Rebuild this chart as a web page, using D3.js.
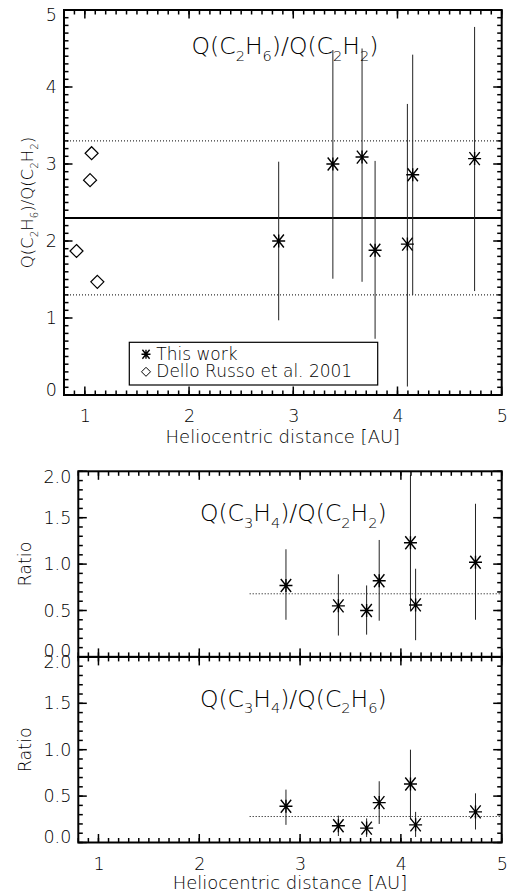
<!DOCTYPE html>
<html>
<head>
<meta charset="utf-8">
<script src="https://cdn.jsdelivr.net/npm/d3@7"></script>
<style>
  body { margin: 0; background: #fff; }
  svg { display: block; }
  text { font-family: "DejaVu Sans", sans-serif; font-weight: 200; fill: #000; }
</style>
</head>
<body>
<div id="chart"></div>
<script>
// ---------------- Data ----------------
// Heliocentric distances of this work's observations [AU]
var distances = [2.86, 3.38, 3.66, 3.785, 4.095, 4.146, 4.74];

// Q(C2H6)/Q(C2H2)
var c2h6c2h2 = [2.00, 3.00, 3.09, 1.88, 1.96, 2.86, 3.07];
var c2h6c2h2Lo = [0.97, 1.51, 1.47, 0.73, 0.11, 1.30, 1.35];
var c2h6c2h2Hi = [3.03, 4.48, 4.50, 3.04, 3.78, 4.42, 4.78];

// Dello Russo et al. 2001
var drDistances = [0.92, 1.05, 1.065, 1.12];
var drRatios = [1.87, 2.79, 3.14, 1.47];

// mean and spread lines of the top panel
var topMean = 2.3;
var topSpread = [3.3, 1.3];

// Q(C3H4)/Q(C2H2)
var c3h4c2h2 = [0.77, 0.55, 0.50, 0.82, 1.23, 0.56, 1.02];
var c3h4c2h2Lo = [0.40, 0.23, 0.24, 0.39, 0.50, 0.18, 0.40];
var c3h4c2h2Hi = [1.16, 0.89, 0.77, 1.26, 1.96, 0.95, 1.65];
var c3h4c2h2Mean = 0.68;

// Q(C3H4)/Q(C2H6)
var c3h4c2h6 = [0.39, 0.18, 0.155, 0.43, 0.63, 0.19, 0.33];
var c3h4c2h6Lo = [0.19, 0.07, 0.06, 0.20, 0.25, 0.06, 0.14];
var c3h4c2h6Hi = [0.57, 0.29, 0.26, 0.66, 1.00, 0.33, 0.53];
var c3h4c2h6Mean = 0.28;
var meanStart = 2.5;

var xTicks = [1, 2, 3, 4, 5];
var topYTicks = [0, 1, 2, 3, 4, 5];
var ratioTicks = [0, 0.5, 1.0, 1.5, 2.0];

// ---------------- SVG ----------------
var svgWidth = 507;
var svgHeight = 893;

var svg = d3.select("#chart").append("svg")
            .attr("width", svgWidth)
            .attr("height", svgHeight);

// minor tick values every 0.1
function minorValues(lo, hi) {
  var out = [];
  for (var i = Math.round(lo * 10); i <= Math.round(hi * 10); i++) out.push(i / 10);
  return out;
}

// tick labels (no tick lines)
function drawLabels(g, x, y, yMajor, opts) {
  var h = y.range()[0];
  if (opts.xLabels) {
    var xa = g.append("g").attr("transform", "translate(0," + h + ")")
              .call(d3.axisBottom(x).tickValues(xTicks).tickSize(0).tickPadding(15).tickFormat(d3.format("d")));
    xa.select(".domain").remove();
    xa.selectAll("text").attr("font-size", 17.5).attr("font-family", null);
  }
  var ya = g.append("g")
            .call(d3.axisLeft(y).tickValues(yMajor).tickSize(0).tickPadding(opts.yPad).tickFormat(opts.yFormat));
  ya.select(".domain").remove();
  var lo = d3.min(yMajor), hi = d3.max(yMajor);
  ya.selectAll("text").attr("font-size", 17.5).attr("font-family", null)
    .attr("dy", d => d === lo ? "0.0em" : d === hi ? "0.62em" : "0.32em");
}

// IDL-like frame with inward major and minor ticks as small filled rects, drawn last
function drawFrame(g, x, y, yMajor) {
  var w = x.range()[1], h = y.range()[0];
  var t = 1.5;
  var f = g.append("g").attr("class", "frame");
  function xt(vals, len) {
    f.selectAll(null).data(vals).enter().append("rect")
     .attr("x", d => x(d) - t / 2).attr("y", h - len).attr("width", t).attr("height", len).attr("fill", "#000");
    f.selectAll(null).data(vals).enter().append("rect")
     .attr("x", d => x(d) - t / 2).attr("y", 0).attr("width", t).attr("height", len).attr("fill", "#000");
  }
  function yt(vals, len) {
    f.selectAll(null).data(vals).enter().append("rect")
     .attr("y", d => y(d) - t / 2).attr("x", 0).attr("height", t).attr("width", len).attr("fill", "#000");
    f.selectAll(null).data(vals).enter().append("rect")
     .attr("y", d => y(d) - t / 2).attr("x", w - len).attr("height", t).attr("width", len).attr("fill", "#000");
  }
  xt(minorValues(x.domain()[0], x.domain()[1]), 4.5);
  yt(minorValues(y.domain()[0], y.domain()[1]), 4.5);
  xt(xTicks, 8.5);
  yt(yMajor, 8.5);
  f.append("rect").attr("width", w).attr("height", h)
   .attr("fill", "none").attr("stroke", "#000").attr("stroke-width", 2);
}

function asterisk(sel, s) {
  var p = "M" + (-s) + ",0H" + s +
          "M0," + (-s) + "V" + s +
          "M" + (-s * 0.8) + "," + (-s) + "L" + (s * 0.8) + "," + s +
          "M" + (-s * 0.8) + "," + s + "L" + (s * 0.8) + "," + (-s);
  sel.append("path").attr("d", p).attr("stroke", "#000").attr("stroke-width", 1.4).attr("fill", "none");
}

function errorPoints(g, x, y, vals, lo, hi) {
  g.selectAll(null).data(vals).enter().append("line")
   .attr("x1", (d, i) => x(distances[i])).attr("x2", (d, i) => x(distances[i]))
   .attr("y1", (d, i) => y(lo[i])).attr("y2", (d, i) => y(hi[i]))
   .attr("stroke", "#222").attr("stroke-width", 1);
  g.selectAll(null).data(vals).enter().append("g")
   .attr("transform", (d, i) => "translate(" + x(distances[i]) + "," + y(d) + ")")
   .each(function() { asterisk(d3.select(this), 6.5); });
}

// subscripted formula label, "Q(C_2H_6)" -> tspans
function formula(sel, str, size) {
  var prevSub = false;
  str.split(/(_\d)/).forEach(function(s) {
    if (!s) return;
    var sub = s.charAt(0) === "_";
    sel.append("tspan")
       .attr("font-size", sub ? size * 0.62 : size)
       .attr("dy", sub ? size * 0.28 : (prevSub ? -size * 0.28 : 0))
       .text(sub ? s.slice(1) : s);
    prevSub = sub;
  });
}

// ---------------- Top panel ----------------
var topBox = { left: 64, top: 10, width: 437.7, height: 385 };
var xTop = d3.scaleLinear().domain([0.8, 5]).range([0, topBox.width]);
var yTop = d3.scaleLinear().domain([0, 5]).range([topBox.height, 0]);
var gTop = svg.append("g").attr("transform", "translate(" + topBox.left + "," + topBox.top + ")");

gTop.append("line").attr("x1", 0).attr("x2", topBox.width)
    .attr("y1", yTop(topMean)).attr("y2", yTop(topMean))
    .attr("stroke", "#000").attr("stroke-width", 2);
topSpread.forEach(function(v) {
  gTop.append("line").attr("x1", 0).attr("x2", topBox.width)
      .attr("y1", yTop(v)).attr("y2", yTop(v))
      .attr("stroke", "#000").attr("stroke-width", 1).attr("stroke-dasharray", "1,2");
});

errorPoints(gTop, xTop, yTop, c2h6c2h2, c2h6c2h2Lo, c2h6c2h2Hi);

gTop.selectAll(null).data(drRatios).enter().append("path")
    .attr("d", "M0,-6.5L6.5,0L0,6.5L-6.5,0Z")
    .attr("transform", (d, i) => "translate(" + xTop(drDistances[i]) + "," + yTop(d) + ")")
    .attr("fill", "none").attr("stroke", "#000").attr("stroke-width", 1.2);

drawLabels(gTop, xTop, yTop, topYTicks, { xLabels: true, yPad: 7, yFormat: d3.format("d") });

gTop.append("text").attr("x", 285 - topBox.left).attr("y", 44).attr("text-anchor", "middle")
    .call(formula, "Q(C_2H_6)/Q(C_2H_2)", 23.5);

// legend
var leg = gTop.append("g").attr("transform", "translate(" + (129.3 - topBox.left) + "," + (342.3 - topBox.top) + ")");
leg.append("rect").attr("width", 248.4).attr("height", 42.7)
   .attr("fill", "#fff").attr("stroke", "#000").attr("stroke-width", 1.2);
leg.append("g").attr("transform", "translate(16.7,12)").call(asterisk, 4.5);
leg.append("path").attr("d", "M0,-4.5L4.5,0L0,4.5L-4.5,0Z")
   .attr("transform", "translate(16.7,29.5)")
   .attr("fill", "none").attr("stroke", "#000").attr("stroke-width", 1);
leg.append("text").attr("x", 27).attr("y", 17.5).attr("font-size", 17).text("This work");
leg.append("text").attr("x", 27).attr("y", 35).attr("font-size", 17).text("Dello Russo et al. 2001");

drawFrame(gTop, xTop, yTop, topYTicks);

svg.append("text").attr("x", topBox.left + topBox.width / 2).attr("y", 443)
   .attr("text-anchor", "middle").attr("font-size", 18).text("Heliocentric distance [AU]");
svg.append("text").attr("transform", "translate(33," + (topBox.top + topBox.height / 2) + ") rotate(-90)")
   .attr("text-anchor", "middle").call(formula, "Q(C_2H_6)/Q(C_2H_2)", 16.5);

// ---------------- Ratio panels ----------------
var rp = { left: 78.3, width: 423.4, height: 185.6 };
var xR = d3.scaleLinear().domain([0.8, 5]).range([0, rp.width]);
var yR = d3.scaleLinear().domain([0, 2]).range([rp.height, 0]);

function ratioPanel(y0, vals, lo, hi, mean, title, showX) {
  var g = svg.append("g").attr("transform", "translate(" + rp.left + "," + y0 + ")");
  g.append("line").attr("x1", xR(meanStart)).attr("x2", rp.width)
   .attr("y1", yR(mean)).attr("y2", yR(mean))
   .attr("stroke", "#000").attr("stroke-width", 1).attr("stroke-dasharray", "1,2");
  errorPoints(g, xR, yR, vals, lo, hi);
  drawLabels(g, xR, yR, ratioTicks, { xLabels: showX, yPad: 7, yFormat: d3.format(".1f") });
  g.append("text").attr("x", 215).attr("y", 50).attr("text-anchor", "middle")
   .call(formula, title, 23.5);
  svg.append("text").attr("transform", "translate(31," + (y0 + rp.height / 2) + ") rotate(-90)")
     .attr("text-anchor", "middle").attr("font-size", 17.5).text("Ratio");
  drawFrame(g, xR, yR, ratioTicks);
  return g;
}

ratioPanel(471.3, c3h4c2h2, c3h4c2h2Lo, c3h4c2h2Hi, c3h4c2h2Mean, "Q(C_3H_4)/Q(C_2H_2)", false);
ratioPanel(656.9, c3h4c2h6, c3h4c2h6Lo, c3h4c2h6Hi, c3h4c2h6Mean, "Q(C_3H_4)/Q(C_2H_6)", true);

svg.append("text").attr("x", rp.left + rp.width / 2).attr("y", 889)
   .attr("text-anchor", "middle").attr("font-size", 18).text("Heliocentric distance [AU]");
</script>
</body>
</html>
